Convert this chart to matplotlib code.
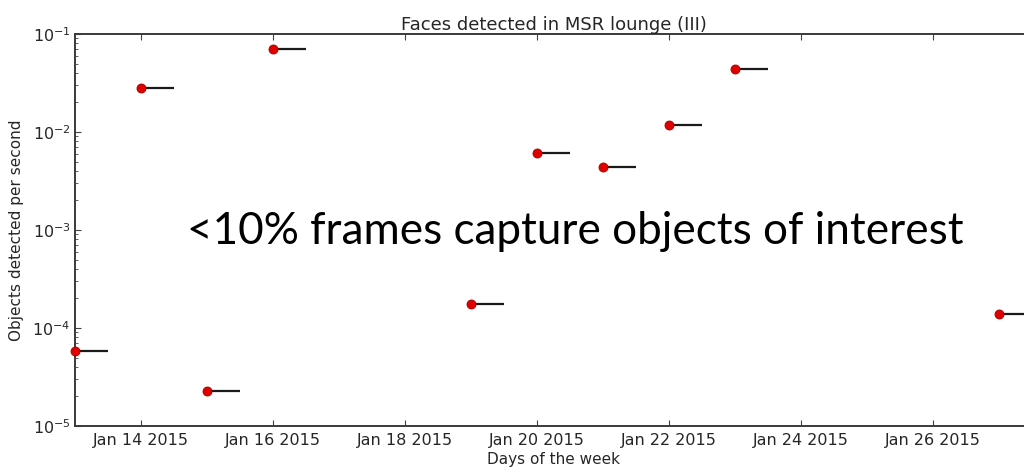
import datetime as dt
import matplotlib
matplotlib.use("Agg")
import matplotlib.pyplot as plt
import matplotlib.dates as mdates
from matplotlib.ticker import LogLocator, NullFormatter

# Detection rates per capture session (start day, objects/second)
session_days = ["2015-01-13", "2015-01-14", "2015-01-15", "2015-01-16",
                "2015-01-19", "2015-01-20", "2015-01-21", "2015-01-22",
                "2015-01-23", "2015-01-27"]
detection_rates = [5.8e-5, 2.8e-2, 2.27e-5, 7.0e-2,
                   1.76e-4, 6.1e-3, 4.4e-3, 1.18e-2,
                   4.4e-2, 1.39e-4]
session_hours = 12

title = "Faces detected in MSR lounge (III)"
xlabel = "Days of the week"
ylabel = "Objects detected per second"
note = "<10% frames capture objects of interest"

starts = [dt.datetime.strptime(d, "%Y-%m-%d") for d in session_days]
ends = [s + dt.timedelta(hours=session_hours) for s in starts]

W, H, DPI = 1024, 472, 100
fig = plt.figure(figsize=(W / DPI, H / DPI), dpi=DPI)
ax = fig.add_axes([75 / W, 46 / H, 957 / W, 392 / H])

text_col = "#262626"
ax.hlines(detection_rates, starts, ends, colors="#1a1a1a", linewidth=1.6, zorder=2)
ax.plot(starts, detection_rates, linestyle="none", marker="o", markersize=6.5,
        markerfacecolor="#e00000", markeredgecolor="#a00000", markeredgewidth=0.6,
        zorder=3, clip_on=False)

ax.set_yscale("log")
ax.set_ylim(1e-5, 1e-1)
ax.set_xlim(dt.datetime(2015, 1, 13), dt.datetime(2015, 1, 27, 12))

ax.xaxis.set_major_locator(mdates.DayLocator(bymonthday=[14, 16, 18, 20, 22, 24, 26]))
ax.xaxis.set_major_formatter(mdates.DateFormatter("%b %d %Y"))
ax.yaxis.set_major_locator(LogLocator(base=10))
ax.yaxis.set_minor_locator(LogLocator(base=10, subs=range(2, 10)))
ax.yaxis.set_minor_formatter(NullFormatter())

ax.tick_params(which="both", direction="in", top=True, right=True,
               colors="#444444", labelcolor=text_col, labelsize=11.5)
ax.tick_params(which="major", length=4, width=0.8)
ax.tick_params(which="minor", length=2, width=0.6)
ax.tick_params(axis="x", which="major", pad=5)
ax.tick_params(axis="y", which="major", pad=3)
for sp in ax.spines.values():
    sp.set_color("#3a3a3a")
    sp.set_linewidth(1.4)

ax.set_title(title, fontsize=13, color=text_col, pad=3)
ax.set_xlabel(xlabel, fontsize=11, color=text_col, labelpad=3)
ax.set_ylabel(ylabel, fontsize=11, color=text_col, labelpad=6)

# Large overlay note, sized to span its intended width
t = fig.text(187 / W, 1 - 232 / H, note, fontsize=36, family="Lato",
             color="black", ha="left", va="center")
fig.canvas.draw()
bb = t.get_window_extent()
t.set_fontsize(36 * 776 / bb.width)

fig.savefig("out.png", dpi=DPI)
